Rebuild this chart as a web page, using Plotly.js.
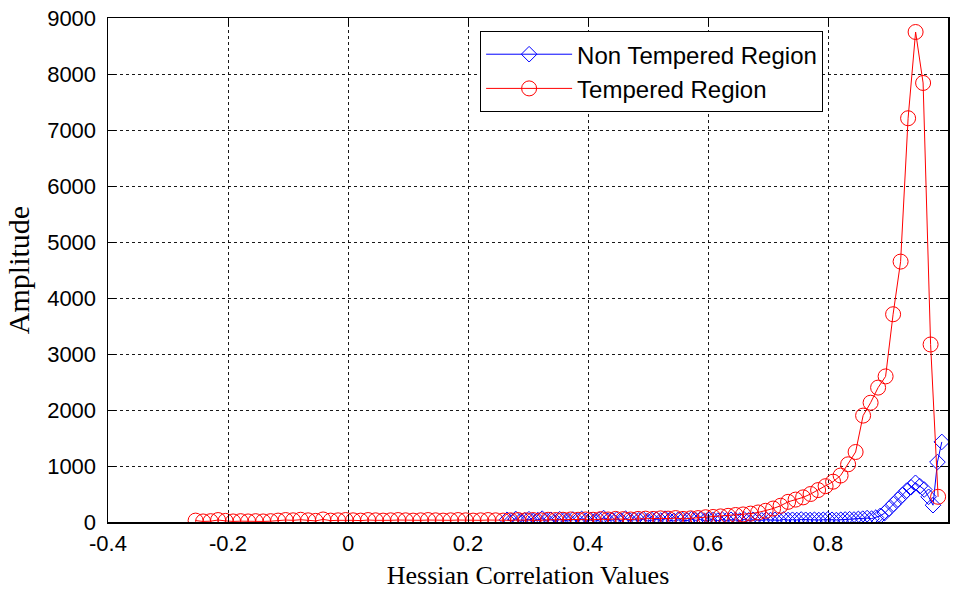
<!DOCTYPE html>
<html>
<head>
<meta charset="utf-8">
<script src="https://cdn.plot.ly/plotly-3.0.1.min.js"></script>
<style>html,body{margin:0;padding:0;background:#fff}#chart{width:953px;height:590px}</style>
</head>
<body>
<div id="chart"></div>
<script>
// Tempered Region (red circles)
const temperedX = [
-0.254,-0.2415,-0.229,-0.2165,-0.204,-0.1915,-0.179,-0.1665,-0.154,-0.1415,
-0.129,-0.1165,-0.104,-0.0915,-0.079,-0.0665,-0.054,-0.0415,-0.029,-0.0165,
-0.004,0.0085,0.021,0.0335,0.046,0.0585,0.071,0.0835,0.096,0.1085,
0.121,0.1335,0.146,0.1585,0.171,0.1835,0.196,0.2085,0.221,0.2335,
0.246,0.2585,0.271,0.2835,0.296,0.3085,0.321,0.3335,0.346,0.3585,
0.371,0.3835,0.396,0.4085,0.421,0.4335,0.446,0.4585,0.471,0.4835,
0.496,0.5085,0.521,0.5335,0.546,0.5585,0.571,0.5835,0.596,0.6085,
0.621,0.6335,0.646,0.6585,0.671,0.6835,0.696,0.7085,0.721,0.7335,
0.746,0.7585,0.771,0.7835,0.796,0.8085,0.821,0.8335,0.846,0.8585,
0.871,0.8835,0.896,0.9085,0.921,0.9335,0.946,0.9585,0.971,0.9835];
const temperedY = [
25,10,15,35,20,10,15,10,15,10,
15,25,35,30,40,30,20,45,25,30,
35,30,25,35,30,25,30,35,30,25,
30,35,30,25,30,35,30,25,30,35,
30,25,30,35,30,35,30,40,35,40,
45,40,45,40,50,45,55,50,45,55,
60,55,65,60,70,55,65,70,85,90,
100,110,125,135,150,170,200,240,290,360,
400,440,500,570,640,720,830,1030,1250,1900,
2130,2400,2600,3710,4650,7210,8750,7840,3170,450];

// Non Tempered Region (blue diamonds)
const nonTemperedX = [
0.2650,0.2723,0.2796,0.2870,0.2943,0.3016,0.3089,0.3162,0.3236,0.3309,
0.3382,0.3455,0.3528,0.3602,0.3675,0.3748,0.3821,0.3894,0.3968,0.4041,
0.4114,0.4187,0.4260,0.4334,0.4407,0.4480,0.4553,0.4626,0.4700,0.4773,
0.4846,0.4919,0.4992,0.5066,0.5139,0.5212,0.5285,0.5358,0.5432,0.5505,
0.5578,0.5651,0.5724,0.5798,0.5871,0.5944,0.6017,0.6090,0.6164,0.6237,
0.6310,0.6383,0.6456,0.6530,0.6603,0.6676,0.6749,0.6822,0.6896,0.6969,
0.7042,0.7115,0.7188,0.7262,0.7335,0.7408,0.7481,0.7554,0.7628,0.7701,
0.7774,0.7847,0.7920,0.7994,0.8067,0.8140,0.8213,0.8286,0.8360,0.8433,
0.8506,0.8579,0.8652,0.8726,0.8799,0.8872,0.8945,0.9018,0.9092,0.9165,
0.9238,0.9311,0.9384,0.9458,0.9531,0.9604,0.9677,0.9750,0.9824,0.9897];
const nonTemperedY = [
40,20,55,15,30,50,20,35,60,25,
40,15,50,30,20,45,25,55,20,35,
15,40,70,25,30,45,20,60,25,40,
30,50,20,35,45,25,60,30,20,40,
35,25,50,30,45,20,35,40,25,45,
30,40,35,25,45,30,40,35,30,40,
35,40,30,45,35,40,35,45,40,35,
40,35,40,45,40,35,40,45,50,45,
55,60,70,60,80,110,160,240,320,400,
480,560,620,700,640,580,450,300,1070,1430];

const xTickVals = [-0.4,-0.2,0,0.2,0.4,0.6,0.8,1];
const xTickText = ["-0.4","-0.2","0","0.2","0.4","0.6","0.8","1"];
const yTickVals = [0,1000,2000,3000,4000,5000,6000,7000,8000,9000];
const yTickText = ["0","1000","2000","3000","4000","5000","6000","7000","8000","9000"];
const seriesNames = ["Non Tempered Region","Tempered Region"];
const xTitle = "Hessian Correlation Values";
const yTitle = "Amplitude";

const traces = [
  {x: nonTemperedX, y: nonTemperedY, name: seriesNames[0], type: 'scatter', mode: 'lines+markers',
   line: {color: 'rgb(0,0,255)', width: 1},
   marker: {symbol: 'diamond-open', size: 12, color: 'rgb(0,0,255)', line: {width: 1, color: 'rgb(0,0,255)'}}},
  {x: temperedX, y: temperedY, name: seriesNames[1], type: 'scatter', mode: 'lines+markers',
   line: {color: 'rgb(255,0,0)', width: 1},
   marker: {symbol: 'circle-open', size: 15, color: 'rgb(255,0,0)', line: {width: 1, color: 'rgb(255,0,0)'}}}
];

const axisCommon = {
  showline: true, linecolor: '#000', linewidth: 1.5, mirror: 'ticks',
  ticks: 'inside', ticklen: 8, tickwidth: 1, tickcolor: '#000',
  showgrid: true, gridcolor: 'rgba(0,0,0,0.9)', gridwidth: 1, griddash: 'dot',
  zeroline: false,
  tickfont: {family: '"Liberation Sans", Arial, sans-serif', size: 22, color: '#000'}
};

const layout = {
  width: 953, height: 590,
  margin: {l: 108, r: 5, t: 18, b: 68},
  paper_bgcolor: '#fff', plot_bgcolor: '#fff',
  showlegend: true,
  xaxis: Object.assign({}, axisCommon, {
    range: [-0.4, 1], tickmode: 'array', tickvals: xTickVals, ticktext: xTickText,
    ticklabelstandoff: 1,
    title: {text: xTitle, font: {family: '"Liberation Serif", "Times New Roman", serif', size: 26, color: '#000'}, standoff: 12}
  }),
  yaxis: Object.assign({}, axisCommon, {
    range: [0, 9000], tickmode: 'array', tickvals: yTickVals, ticktext: yTickText,
    ticklabelstandoff: 6,
    title: {text: yTitle, font: {family: '"Liberation Serif", "Times New Roman", serif', size: 30, color: '#000'}, standoff: 8}
  }),
  legend: {
    x: 0.443, y: 0.974, xanchor: 'left', yanchor: 'top',
    bgcolor: '#fff', bordercolor: '#000', borderwidth: 1,
    font: {family: '"Liberation Sans", Arial, sans-serif', size: 24, color: '#000'},
    itemwidth: 86
  }
};

Plotly.newPlot('chart', traces, layout, {displayModeBar: false, staticPlot: true});
</script>
</body>
</html>
